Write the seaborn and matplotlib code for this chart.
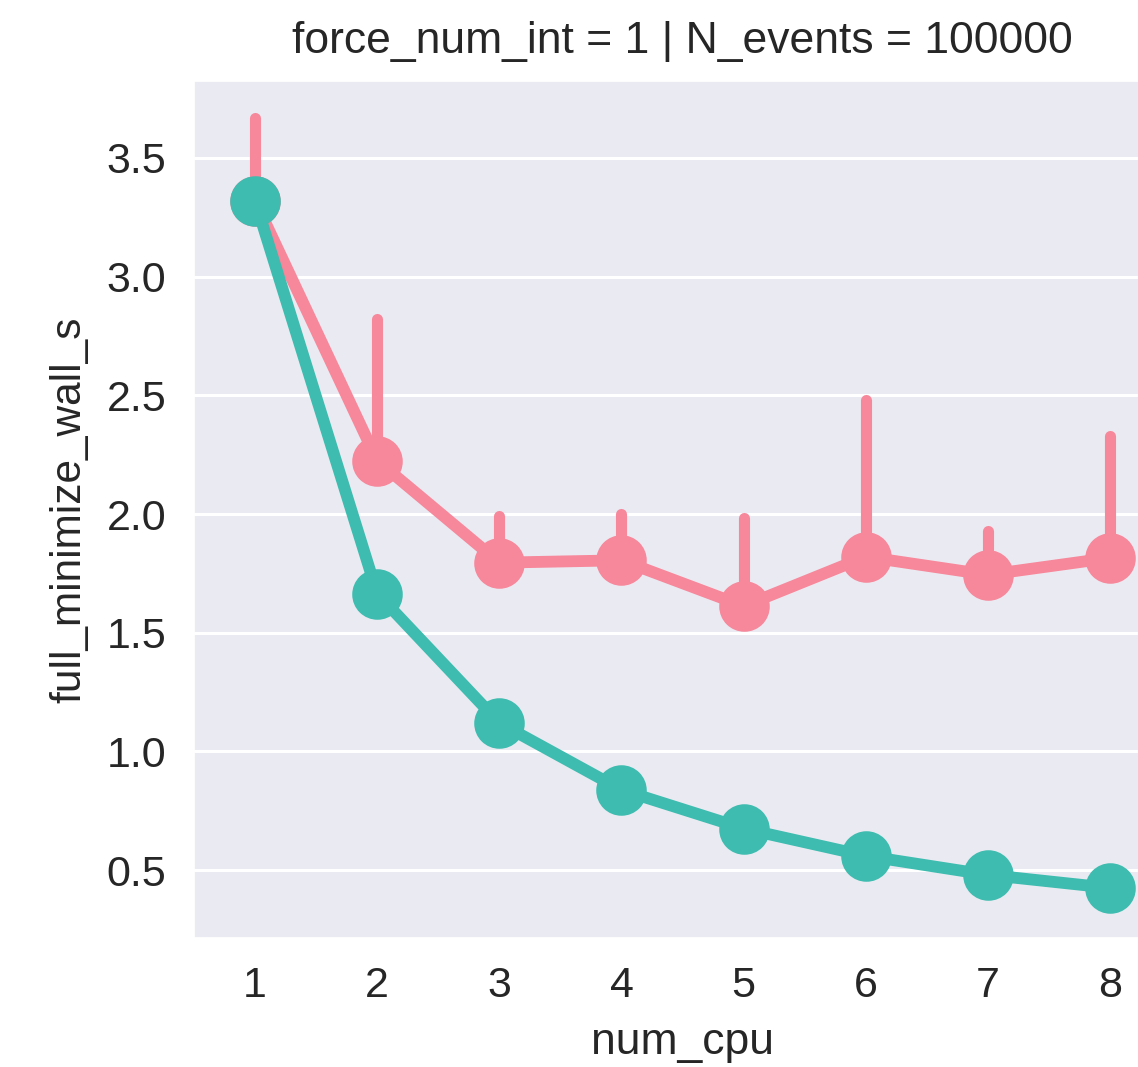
import matplotlib
matplotlib.use("Agg")
import matplotlib.pyplot as plt
import seaborn as sns
import pandas as pd

num_cpu = [1, 2, 3, 4, 5, 6, 7, 8]
series_names = ["A", "B"]
mean_a = [3.32, 2.225, 1.795, 1.805, 1.612, 1.82, 1.744, 1.815]
ci_hi_a = [3.67, 2.82, 1.99, 2.0, 1.985, 2.48, 1.93, 2.33]
mean_b = [3.32, 1.665, 1.12, 0.838, 0.675, 0.56, 0.48, 0.425]
ci_hi_b = [3.34, 1.68, 1.13, 0.845, 0.68, 0.565, 0.485, 0.43]

title = "force_num_int = 1 | N_events = 100000"
xlabel = "num_cpu"
ylabel = "full_minimize_wall_s"
colors = ["#F7879A", "#3DBCAF"]

sns.set_theme(style="darkgrid")
plt.rcParams["font.family"] = ["Liberation Sans", "DejaVu Sans"]

df = pd.DataFrame({
    "num_cpu": num_cpu * 2,
    "full_minimize_wall_s": mean_a + mean_b,
    "series": [series_names[0]] * len(num_cpu) + [series_names[1]] * len(num_cpu),
})

fig = plt.figure(figsize=(11.38, 10.67), dpi=100)
ax = fig.add_axes([0.1705, 0.1209, 0.8585, 0.8032])

# error bars (drawn beneath points)
xs = list(range(len(num_cpu)))
ax.vlines(xs, mean_a, ci_hi_a, colors=colors[0], linewidth=8, zorder=1.5,
          capstyle="round")
ax.vlines(xs, mean_b, ci_hi_b, colors=colors[1], linewidth=8, zorder=1.5,
          capstyle="round")

sns.pointplot(data=df, x="num_cpu", y="full_minimize_wall_s", hue="series",
              palette=colors, errorbar=None, ax=ax, markersize=30,
              linewidth=8.5, legend=False)

ax.set_xlim(-0.5, 7.5)
ax.set_ylim(0.214, 3.824)
ax.set_yticks([0.5, 1.0, 1.5, 2.0, 2.5, 3.0, 3.5])
ax.set_title(title, fontsize=32, pad=20, color="#262626")
ax.set_xlabel(xlabel, fontsize=32, labelpad=12, color="#262626")
ax.set_ylabel(ylabel, fontsize=30.5, labelpad=12, color="#262626")
ax.tick_params(axis="both", labelsize=31, colors="#262626", pad=14)
ax.grid(True, axis="y", color="white", linewidth=2.2)
ax.grid(False, axis="x")

fig.savefig("out.png", dpi=100)
